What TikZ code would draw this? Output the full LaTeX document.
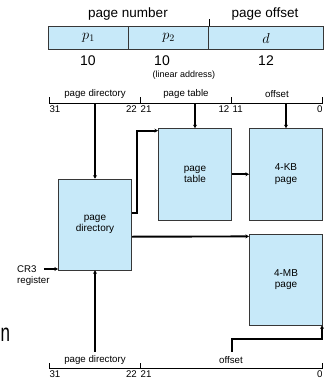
\documentclass[tikz,border=0pt]{standalone}
\usepackage{fontspec}
\setmainfont{Liberation Sans}
\usetikzlibrary{arrows.meta}

\definecolor{pageblue}{RGB}{199,233,249}
\definecolor{edgegray}{RGB}{55,55,55}

\begin{document}
\begin{tikzpicture}[x=1pt,y=-1pt,
  box/.style={draw=edgegray, fill=pageblue, line width=0.7pt, minimum width=73.4pt,
    minimum height=91pt, inner sep=0pt, align=center, font=\fontsize{10}{11.5}\selectfont},
  field/.style={draw=edgegray, fill=pageblue, line width=0.7pt, minimum height=22.6pt,
    inner sep=0pt, font=\fontsize{14}{14}\selectfont},
  link/.style={line width=1.9pt, -{Stealth[length=3.5pt,width=4pt]}},
  small/.style={inner sep=0pt, font=\fontsize{9.7}{10}\selectfont},
  big/.style={inner sep=0pt, font=\fontsize{13.5}{14}\selectfont}]

\useasboundingbox (0,0) rectangle (334,380);

% Linear address
\node[field, minimum width=80.4pt] (p1) at (88.5,38) {$p_1$};
\node[field, minimum width=80pt] (p2) at (168.7,38) {$p_2$};
\node[field, minimum width=114.6pt] (d) at (266,38) {$d$};
\draw[line width=0.7pt] (p2.north east) -- ++(0,-7.7);
\node[big] (pnum) at (128,14) {page number};
\node[big] (poff) at (265,14) {page offset};

% Field widths
\node[big, font=\fontsize{14}{14}\selectfont] (w1) at (88,61) {10};
\node[big, font=\fontsize{14}{14}\selectfont] (w2) at (162,61) {10};
\node[big, font=\fontsize{14}{14}\selectfont] (w3) at (266,61) {12};
\node[small, font=\fontsize{9}{10}\selectfont] (lin) at (184,75) {(linear address)};

% Upper bit field
\coordinate (ua) at (49.3,103.3);
\coordinate (ub) at (322.7,103.3);
\draw[line width=0.7pt] (ua) -- (ub);
\foreach \x in {49.3,140.5,231.2,322.7}
  \draw[line width=0.7pt] (\x,103.3) -- (\x,97);
\node[small] (udir) at (95,94) {page directory};
\node[small] (utab) at (186,94) {page table};
\node[small] (uoff) at (277,94) {offset};
\node[small, anchor=west] at (49.3,109) {31};
\node[small, anchor=east] at (137,109) {22};
\node[small, anchor=west] at (140.5,109) {21};
\node[small, anchor=east] at (229.5,109) {12};
\node[small, anchor=west] at (232.5,109) {11};
\node[small, anchor=east] at (322.7,109) {0};
\coordinate (udirbit) at (95,103.3);
\coordinate (utabbit) at (195,103.3);
\coordinate (uoffbit) at (286,103.3);

% Tables and pages
\node[box] (pdir) at (95,224.5) {page\\directory};
\node[box, minimum height=91.5pt] (ptab) at (195,174.25) {page\\table};
\node[box, minimum height=91.5pt] (kb) at (286,174.25) {4-KB\\page};
\node[box, minimum height=90.7pt] (mb) at (286,279.7) {4-MB\\page};

% CR3 register
\node[small, anchor=west] (cr3) at (17,269) {CR3};
\node[small, anchor=west] (reg) at (17,281) {register};
\draw[link] ([xshift=7pt]cr3.east) -- (cr3.east -| pdir.west);

% Links
\draw[link] (udirbit) -- (pdir.north);
\draw[link] (utabbit) -- (ptab.north);
\draw[link] (uoffbit) -- (kb.north);
\draw[link] ([yshift=-34.3pt]pdir.north east) -- ++(5,0) |- ([yshift=-2.5pt]ptab.north west);
\draw[link] (ptab.east) -- (kb.west);
\draw[link] ([yshift=-12.2pt]pdir.east) -- ([yshift=-2.4pt]mb.north west);

% Lower bit field
\draw[line width=0.7pt] (49.3,368) -- (322.7,368);
\foreach \x in {49.3,140.5,322.7}
  \draw[line width=0.7pt] (\x,368) -- (\x,362.5);
\node[small] (ldir) at (95,359.5) {page directory};
\node[small] (loff) at (231,360) {offset};
\node[small, anchor=west] at (49.3,374) {31};
\node[small, anchor=east] at (137,374) {22};
\node[small, anchor=west] at (140.5,374) {21};
\node[small, anchor=east] at (322.7,374) {0};
\coordinate (ldirbit) at (95,351.7);
\coordinate (loffbit) at (231.7,351.7);
\draw[link] (ldirbit) -- (pdir.south);
\draw[link] (loffbit) |- ([xshift=-1pt,yshift=-13.3pt]mb.south east) -- ([xshift=-1pt]mb.south east);

% Letter at the left edge
\node[inner sep=0pt, anchor=west, font=\fontsize{25}{25}\selectfont] (cut) at (0.5,335) {\scalebox{0.68}[1]{n}};

\end{tikzpicture}
\end{document}
